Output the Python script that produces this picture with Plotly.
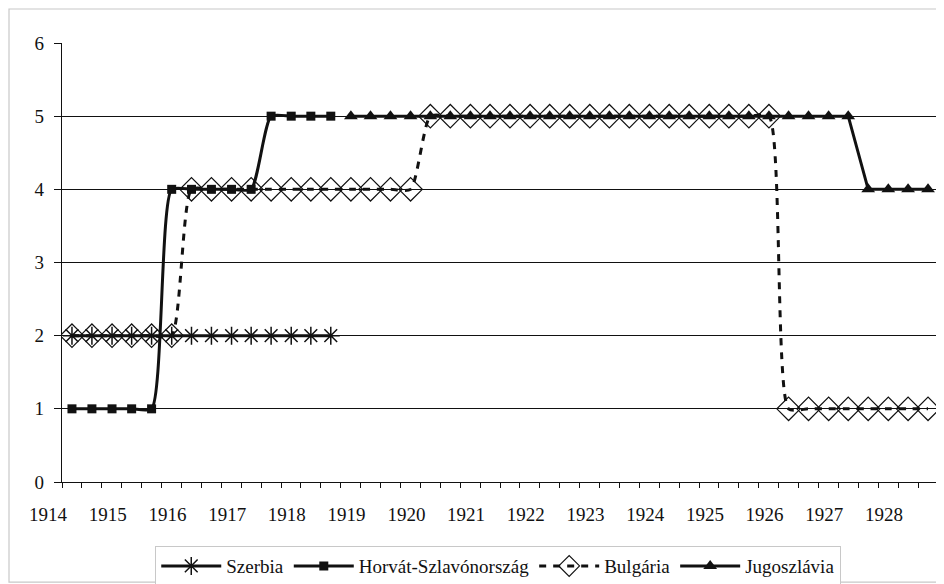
import plotly.graph_objects as go

# Periods (4-month steps), category centres
periods = [
    "1914-06-01", "1914-10-01", "1915-02-01", "1915-06-01", "1915-10-01", "1916-02-01",
    "1916-06-01", "1916-10-01", "1917-02-01", "1917-06-01", "1917-10-01", "1918-02-01",
    "1918-06-01", "1918-10-01", "1919-02-01", "1919-06-01", "1919-10-01", "1920-02-01",
    "1920-06-01", "1920-10-01", "1921-02-01", "1921-06-01", "1921-10-01", "1922-02-01",
    "1922-06-01", "1922-10-01", "1923-02-01", "1923-06-01", "1923-10-01", "1924-02-01",
    "1924-06-01", "1924-10-01", "1925-02-01", "1925-06-01", "1925-10-01", "1926-02-01",
    "1926-06-01", "1926-10-01", "1927-02-01", "1927-06-01", "1927-10-01", "1928-02-01",
    "1928-06-01", "1928-10-01",
]

N = None
szerbia = [2, 2, 2, 2, 2, 2, 2, 2, 2, 2, 2, 2, 2, 2,
           N, N, N, N, N, N, N, N, N, N, N, N, N, N, N, N,
           N, N, N, N, N, N, N, N, N, N, N, N, N, N]
horvat = [1, 1, 1, 1, 1, 4, 4, 4, 4, 4, 5, 5, 5, 5,
          N, N, N, N, N, N, N, N, N, N, N, N, N, N, N, N,
          N, N, N, N, N, N, N, N, N, N, N, N, N, N]
bulgaria = [2, 2, 2, 2, 2, 2, 4, 4, 4, 4, 4, 4, 4, 4, 4, 4, 4, 4,
            5, 5, 5, 5, 5, 5, 5, 5, 5, 5, 5, 5, 5, 5, 5, 5, 5, 5,
            1, 1, 1, 1, 1, 1, 1, 1]
jugoszlavia = [N, N, N, N, N, N, N, N, N, N, N, N, N, N,
               5, 5, 5, 5, 5, 5, 5, 5, 5, 5, 5, 5, 5, 5, 5, 5,
               5, 5, 5, 5, 5, 5, 5, 5, 5, 5, 4, 4, 4, 4]

names = ["Szerbia", "Horvát-Szlavónország", "Bulgária", "Jugoszlávia"]
y_ticks = [0, 1, 2, 3, 4, 5, 6]

FONT = "Liberation Serif, Times New Roman, serif"
FS = 19
INK = "#111111"

fig = go.Figure()
fig.add_trace(go.Scatter(
    x=periods, y=szerbia, name=names[0], mode="lines+markers",
    line=dict(color=INK, width=3),
    marker=dict(symbol="asterisk-open", size=15, color=INK, line=dict(color=INK, width=1.5)),
))
fig.add_trace(go.Scatter(
    x=periods, y=horvat, name=names[1], mode="lines+markers",
    line=dict(color=INK, width=3, shape="spline", smoothing=0.6),
    marker=dict(symbol="square", size=9, color=INK),
))
fig.add_trace(go.Scatter(
    x=periods, y=bulgaria, name=names[2], mode="lines+markers",
    line=dict(color=INK, width=3, dash="7px,7px", shape="spline", smoothing=0.6),
    marker=dict(symbol="diamond-open", size=18, color=INK, line=dict(color=INK, width=1.2)),
))
fig.add_trace(go.Scatter(
    x=periods, y=jugoszlavia, name=names[3], mode="lines+markers",
    line=dict(color=INK, width=3),
    marker=dict(symbol="triangle-up", size=12, color=INK),
))

# The page body adds an 8px offset, so the figure is 936x576 drawn from (8, 8).
fig.update_layout(
    width=936, height=576, autosize=False,
    margin=dict(l=54, r=6, t=35, b=102, autoexpand=False),
    paper_bgcolor="white", plot_bgcolor="white",
    font=dict(family=FONT, size=FS, color=INK),
    showlegend=True,
    legend=dict(
        orientation="h", x=0.498, xanchor="center", y=-0.146, yanchor="top",
        bordercolor="#c8c8c8", borderwidth=1, bgcolor="white",
        font=dict(family=FONT, size=FS, color=INK), itemwidth=60,
        traceorder="normal",
    ),
    xaxis=dict(
        type="date", range=["1914-04-01", "1928-12-01"], automargin=False,
        tick0="1914-04-01", dtick="M12", tickformat="%Y",
        ticks="outside", ticklen=5, tickcolor=INK, tickwidth=1,
        ticklabelshift=-14, ticklabelstandoff=10,
        minor=dict(tick0="1914-04-01", dtick="M4", ticks="outside", ticklen=5,
                   tickcolor=INK, tickwidth=1, showgrid=False),
        showline=True, linecolor=INK, linewidth=1.3,
        showgrid=False, zeroline=False,
        tickfont=dict(family=FONT, size=FS, color=INK),
    ),
    yaxis=dict(
        range=[0, 6], tickvals=y_ticks, ticktext=[str(v) for v in y_ticks],
        automargin=False,
        ticks="outside", ticklen=7, tickcolor=INK, tickwidth=1,
        ticklabelstandoff=6,
        showline=True, linecolor=INK, linewidth=1.3,
        showgrid=True, gridcolor=INK, gridwidth=1,
        zeroline=False,
        tickfont=dict(family=FONT, size=FS, color=INK),
    ),
    shapes=[dict(type="rect", xref="paper", yref="paper",
                 x0=-0.0605, x1=1.0046, y0=-0.228, y1=1.0774,
                 line=dict(color="#c8c8c8", width=1.2), fillcolor="rgba(0,0,0,0)",
                 layer="below")],
)

fig.write_html("out.html")
